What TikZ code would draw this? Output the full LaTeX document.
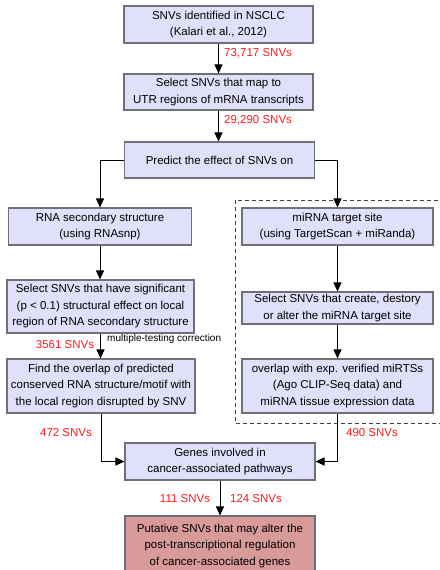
\documentclass[tikz,border=0pt]{standalone}
\usepackage{fontspec}
\setmainfont{Liberation Sans}
\usetikzlibrary{arrows.meta}
\definecolor{boxfill}{HTML}{E0E0FA}
\definecolor{boxline}{HTML}{707078}
\definecolor{endfill}{HTML}{D99A9A}
\definecolor{cntred}{HTML}{FF1A1A}
\tikzset{
  box/.style={draw=boxline, line width=1.1pt, fill=boxfill, align=center,
    inner sep=0pt, font=\fontsize{11.5}{16.5}\selectfont},
  endbox/.style={box, fill=endfill},
  arr/.style={draw=black, line width=0.9pt, -{Triangle[length=9pt,width=8pt]}},
  count/.style={text=cntred, inner sep=0pt, font=\fontsize{11.5}{14}\selectfont},
  note/.style={inner sep=0pt, font=\fontsize{10}{12}\selectfont},
  group/.style={draw=black!75, line width=0.9pt, dash pattern=on 4pt off 3pt}
}
\begin{document}
\begin{tikzpicture}[x=1pt,y=-1pt]
\useasboundingbox (0,0) rectangle (439,570);

% dashed frame around the miRNA branch
\draw[group] (235,200) rectangle (446,423);

% main column
\node[box, minimum width=189, minimum height=37] (n1) at (218.5,24.5)
  {SNVs identified in NSCLC\\(Kalari et al., 2012)};
\node[box, minimum width=189, minimum height=36] (n2) at (218.5,92)
  {Select SNVs that map to\\UTR regions of mRNA transcripts};
\node[box, minimum width=190, minimum height=36] (n3) at (219.5,160)
  {Predict the effect of SNVs on};

% RNA structure branch
\node[box, minimum width=183, minimum height=37] (a1) at (100,226.5)
  {RNA secondary structure\\(using RNAsnp)};
\node[box, minimum width=187, minimum height=53] (a2) at (100.5,306.5)
  {Select SNVs that have significant\\(p < 0.1) structural effect on local\\region of RNA secondary structure};
\node[box, minimum width=188, minimum height=54] (a3) at (101,386)
  {Find the overlap of predicted\\conserved RNA structure/motif with\\the local region disrupted by SNV};

% miRNA target site branch
\node[box, minimum width=191, minimum height=37] (b1) at (337.5,226.5)
  {miRNA target site\\(using TargetScan + miRanda)};
\node[box, minimum width=191, minimum height=32] (b2) at (337.5,308)
  {Select SNVs that create, destory\\or alter the miRNA target site};
\node[box, minimum width=191, minimum height=54] (b3) at (337.5,386)
  {overlap with exp. verified miRTSs\\(Ago CLIP-Seq data) and\\miRNA tissue expression data};

% merge
\node[box, minimum width=190, minimum height=37] (n7) at (220,461.5)
  {Genes involved in\\cancer-associated pathways};
\node[endbox, minimum width=190, minimum height=60] (n8) at (220,546)
  {Putative SNVs that may alter the\\post-transcriptional regulation\\of cancer-associated genes};

% connectors
\draw[arr] (n1.south) -- (n1.south |- n2.north);
\draw[arr] (n2.south) -- (n2.south |- n3.north);
\draw[arr] (n3.west) -| (a1.north);
\draw[arr] (n3.east) -| (b1.north);
\draw[arr] (a1.south) -- (a1.south |- a2.north);
\draw[arr] (a2.south) -- (a2.south |- a3.north);
\draw[arr] (b1.south) -- (b1.south |- b2.north);
\draw[arr] (b2.south) -- (b2.south |- b3.north);
\draw[arr] (a3.south) |- (n7.west);
\draw[arr] (b3.south) |- (n7.east);
\draw[arr] (n7.south) -- (n7.south |- n8.north);

% counts and notes
\node[count, anchor=west] (c1) at (224,53) {73,717 SNVs};
\node[count, anchor=west] (c2) at (224,120) {29,290 SNVs};
\node[count] (c3) at (65,345) {3561 SNVs};
\node[note, anchor=west] (m1) at (107,339) {multiple-testing correction};
\node[count] (c4) at (66,433) {472 SNVs};
\node[count] (c5) at (372,433) {490 SNVs};
\node[count] (c6) at (185,499) {111 SNVs};
\node[count] (c7) at (256,499) {124 SNVs};
\end{tikzpicture}
\end{document}
